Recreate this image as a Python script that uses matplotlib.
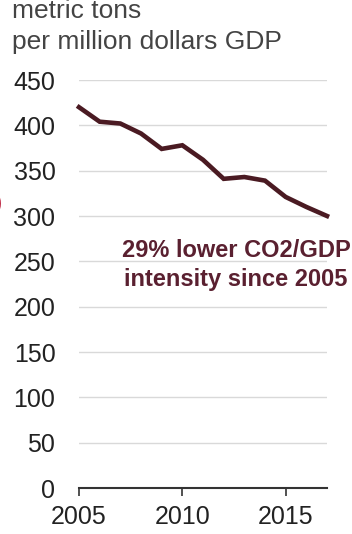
import numpy as np
import matplotlib.pyplot as plt

plt.rcParams['font.family'] = ['Liberation Sans', 'DejaVu Sans']

# CO2 intensity, metric tons per million dollars GDP
years = [2005, 2006, 2007, 2008, 2009, 2010, 2011, 2012, 2013, 2014, 2015, 2016, 2017]
intensity = [420, 404, 402, 391, 374, 378, 362, 341, 343, 339, 321, 310, 300]
y_ticks = [0, 50, 100, 150, 200, 250, 300, 350, 400, 450]
x_ticks = [2005, 2010, 2015]
unit_lines = ['metric tons', 'per million dollars GDP']
note = '29% lower CO2/GDP\nintensity since 2005'

fig = plt.figure(figsize=(3.52, 5.34), dpi=100)
ax = fig.add_axes([79/352, 46/534, 248/352, 408/534])

ax.plot(years, intensity, color='#4a1a22', lw=3.3, solid_joinstyle='miter', clip_on=False, zorder=3)

ax.set_xlim(2005, 2017)
ax.set_ylim(0, 450)
ax.set_yticks(y_ticks)
ax.set_xticks(x_ticks)
ax.grid(axis='y', color='#d9d9d9', lw=1)
ax.set_axisbelow(True)
for s in ['top', 'right', 'left']:
    ax.spines[s].set_visible(False)
ax.spines['bottom'].set_color('#333333')
ax.spines['bottom'].set_linewidth(1.5)
ax.tick_params(axis='y', length=0, pad=17, labelsize=18, labelcolor='#222222')
ax.tick_params(axis='x', length=6, width=1.2, color='#333333', pad=6, labelsize=18, labelcolor='#222222')
for lab in ax.get_yticklabels():
    lab.set_horizontalalignment('right')

ax.text(2012.6, 246, note, ha='center', va='center', fontsize=17, fontweight='bold',
        color='#5a2030', linespacing=1.38, clip_on=False)

# unit label, two lines (top line is cut by the image edge)
fig.text(12/352, 1 - 18/534, unit_lines[0], ha='left', va='baseline', fontsize=19, color='#444444')
fig.text(12/352, 1 - 49/534, unit_lines[1], ha='left', va='baseline', fontsize=19, color='#444444')
fig.text(-5/352, (534 - 203)/534, ')', ha='left', va='center', fontsize=16, color='#c0304a')

fig.savefig('out.png', dpi=100)
